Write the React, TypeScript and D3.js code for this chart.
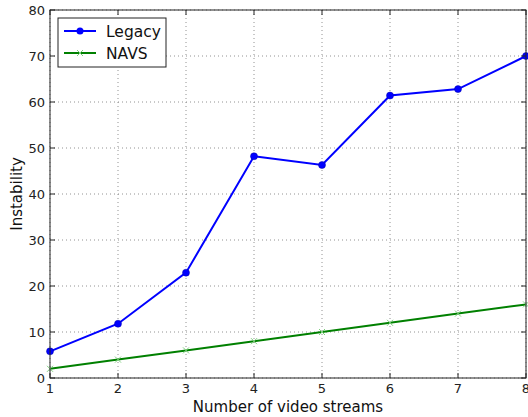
import { useRef, useEffect } from 'react';
import * as d3 from 'd3';

const streams = [1, 2, 3, 4, 5, 6, 7, 8];
const legacy = [5.8, 11.8, 22.9, 48.2, 46.3, 61.4, 62.8, 70.0];
const navs = [2, 4, 6, 8, 10, 12, 14, 16];
const yTicks = [0, 10, 20, 30, 40, 50, 60, 70, 80];
const seriesNames = ['Legacy', 'NAVS'];

const W = 528;
const H = 417;
const FONT = 'DejaVu Sans, sans-serif';

export default function App() {
    const svgRef = useRef<SVGSVGElement>(null);

    useEffect(() => {
        document.body.style.margin = '0';
        if (!svgRef.current) return;
        const svg = d3.select(svgRef.current);
        svg.selectAll('*').remove();

        const left = 50, right = 526, top = 10, bottom = 378;
        const x = d3.scaleLinear().domain([1, 8]).range([left, right]);
        const y = d3.scaleLinear().domain([0, 80]).range([bottom, top]);

        svg.append('rect').attr('width', W).attr('height', H).attr('fill', '#fff');

        // grid
        const grid = svg.append('g')
            .attr('stroke', '#777')
            .attr('stroke-width', 0.8)
            .attr('stroke-dasharray', '1,3');
        streams.forEach(v => {
            grid.append('line').attr('x1', x(v)).attr('x2', x(v)).attr('y1', top).attr('y2', bottom);
        });
        yTicks.forEach(v => {
            grid.append('line').attr('x1', left).attr('x2', right).attr('y1', y(v)).attr('y2', y(v));
        });

        // lines
        const line = d3.line<number>().x((_, i) => x(streams[i])).y(d => y(d));
        svg.append('path').datum(navs).attr('d', line)
            .attr('fill', 'none').attr('stroke', '#008000').attr('stroke-width', 2);
        navs.forEach((v, i) => {
            const cx = x(streams[i]), cy = y(v), s = 3;
            svg.append('path')
                .attr('d', `M${cx - s},${cy - s}L${cx + s},${cy + s}M${cx - s},${cy + s}L${cx + s},${cy - s}`)
                .attr('stroke', '#7fcf7f').attr('stroke-width', 1);
        });
        svg.append('path').datum(legacy).attr('d', line)
            .attr('fill', 'none').attr('stroke', '#0000ff').attr('stroke-width', 2);
        legacy.forEach((v, i) => {
            svg.append('circle').attr('cx', x(streams[i])).attr('cy', y(v)).attr('r', 3.5)
                .attr('fill', '#0000ff').attr('stroke', '#0000aa').attr('stroke-width', 0.5);
        });

        // frame
        svg.append('rect').attr('x', left).attr('y', top)
            .attr('width', right - left).attr('height', bottom - top)
            .attr('fill', 'none').attr('stroke', '#222').attr('stroke-width', 1);

        // ticks (inward, all sides)
        const ticks = svg.append('g').attr('stroke', '#222').attr('stroke-width', 1);
        streams.forEach(v => {
            ticks.append('line').attr('x1', x(v)).attr('x2', x(v)).attr('y1', bottom).attr('y2', bottom - 5);
            ticks.append('line').attr('x1', x(v)).attr('x2', x(v)).attr('y1', top).attr('y2', top + 5);
        });
        yTicks.forEach(v => {
            ticks.append('line').attr('x1', left).attr('x2', left + 5).attr('y1', y(v)).attr('y2', y(v));
            ticks.append('line').attr('x1', right).attr('x2', right - 5).attr('y1', y(v)).attr('y2', y(v));
        });

        // tick labels
        svg.append('g').selectAll('text').data(streams).enter().append('text')
            .attr('x', d => x(d)).attr('y', bottom + 15)
            .attr('text-anchor', 'middle').attr('font-family', FONT).attr('font-size', 13)
            .attr('fill', '#222').text(d => d);
        svg.append('g').selectAll('text').data(yTicks).enter().append('text')
            .attr('x', left - 5).attr('y', d => y(d) + 5)
            .attr('text-anchor', 'end').attr('font-family', FONT).attr('font-size', 13)
            .attr('fill', '#222').text(d => d);

        // axis labels
        svg.append('text').attr('x', (left + right) / 2).attr('y', 412)
            .attr('text-anchor', 'middle').attr('font-family', FONT).attr('font-size', 15)
            .attr('fill', '#111').text('Number of video streams');
        svg.append('text').attr('transform', `translate(22,${(top + bottom) / 2}) rotate(-90)`)
            .attr('text-anchor', 'middle').attr('font-family', FONT).attr('font-size', 15)
            .attr('fill', '#111').text('Instability');

        // legend
        const lg = svg.append('g');
        lg.append('rect').attr('x', 58).attr('y', 18).attr('width', 108).attr('height', 49)
            .attr('fill', '#fff').attr('stroke', '#222').attr('stroke-width', 1);
        const colors = ['#0000ff', '#008000'];
        seriesNames.forEach((name, i) => {
            const ly = 31 + i * 22;
            lg.append('line').attr('x1', 64).attr('x2', 96).attr('y1', ly).attr('y2', ly)
                .attr('stroke', colors[i]).attr('stroke-width', 2);
            if (i === 0) {
                lg.append('circle').attr('cx', 80).attr('cy', ly).attr('r', 3.5).attr('fill', '#0000ff');
            } else {
                const s = 3;
                lg.append('path')
                    .attr('d', `M${80 - s},${ly - s}L${80 + s},${ly + s}M${80 - s},${ly + s}L${80 + s},${ly - s}`)
                    .attr('stroke', '#7fcf7f').attr('stroke-width', 1);
            }
            lg.append('text').attr('x', 106).attr('y', ly + 5.5)
                .attr('font-family', FONT).attr('font-size', 15.5).attr('fill', '#111').text(name);
        });
    }, []);

    return <svg ref={svgRef} width={W} height={H} style={{ display: 'block' }} />;
}
